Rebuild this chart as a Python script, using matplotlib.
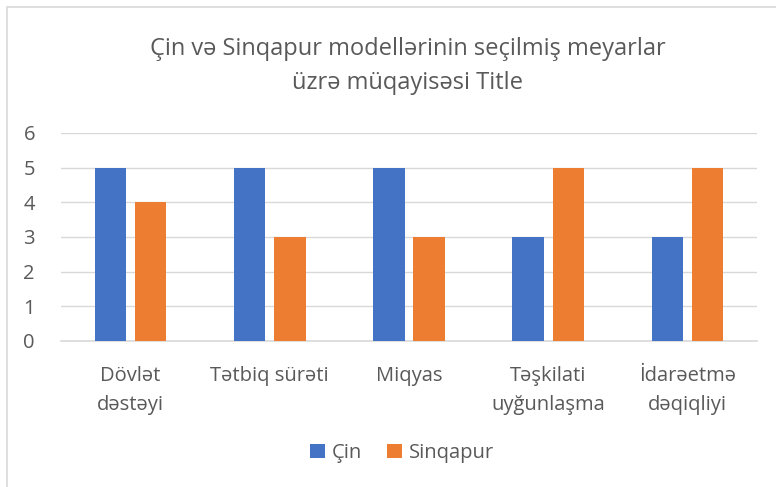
import matplotlib.pyplot as plt
import numpy as np
from matplotlib.patches import Rectangle

# Data
categories = ["Dövlət\ndəstəyi", "Tətbiq sürəti", "Miqyas", "Təşkilati\nuyğunlaşma", "İdarəetmə\ndəqiqliyi"]
cin = [5, 5, 5, 3, 3]
sinqapur = [4, 3, 3, 5, 5]
yticks = [0, 1, 2, 3, 4, 5, 6]

plt.rcParams["font.family"] = ["Open Sans", "DejaVu Sans"]
text_color = "#595959"

fig = plt.figure(figsize=(7.76, 4.87), dpi=100)
W, H = 776, 487

# chart border (runs past the right and bottom edges)
fig.patches.append(Rectangle((7 / W, -0.05), 1.0, 1 - 7 / H + 0.05, transform=fig.transFigure,
                             fill=False, edgecolor="#d9d9d9", linewidth=1.2))

ax = fig.add_axes([61 / W, 1 - 341 / H, (757 - 61) / W, (341 - 133) / H])

x = np.arange(len(categories))
width = 0.225
ax.bar(x - 0.144, cin, width, color="#4472C4", label="Çin", zorder=3)
ax.bar(x + 0.144, sinqapur, width, color="#ED7D31", label="Sinqapur", zorder=3)

ax.set_xlim(-0.5, len(categories) - 0.5)
ax.set_ylim(0, 6)
ax.set_yticks(yticks)
ax.yaxis.grid(True, color="#d9d9d9", linewidth=1)
ax.set_axisbelow(True)
for s in ["top", "right", "left"]:
    ax.spines[s].set_visible(False)
ax.spines["bottom"].set_color("#d9d9d9")
ax.spines["bottom"].set_linewidth(1.2)
ax.tick_params(length=0, colors=text_color, labelsize=14.5)
ax.tick_params(axis="y", pad=27)
ax.tick_params(axis="x", pad=18)
ax.set_xticks(x)
ax.set_xticklabels(categories, linespacing=1.6)
for lbl in ax.get_yticklabels():
    lbl.set_horizontalalignment("left")

fig.text(408 / W, 1 - 66 / H, "Çin və Sinqapur modellərinin seçilmiş meyarlar\nüzrə müqayisəsi Title",
         ha="center", va="center", fontsize=17, color=text_color, linespacing=1.6)

leg = fig.legend(loc="center", bbox_to_anchor=(402 / W, 1 - 453 / H), ncol=2, frameon=False,
                 fontsize=14.5, handlelength=0.75, handleheight=0.75, handletextpad=0.35,
                 columnspacing=1.2)
for t in leg.get_texts():
    t.set_color(text_color)

fig.savefig("out.png", dpi=100)
